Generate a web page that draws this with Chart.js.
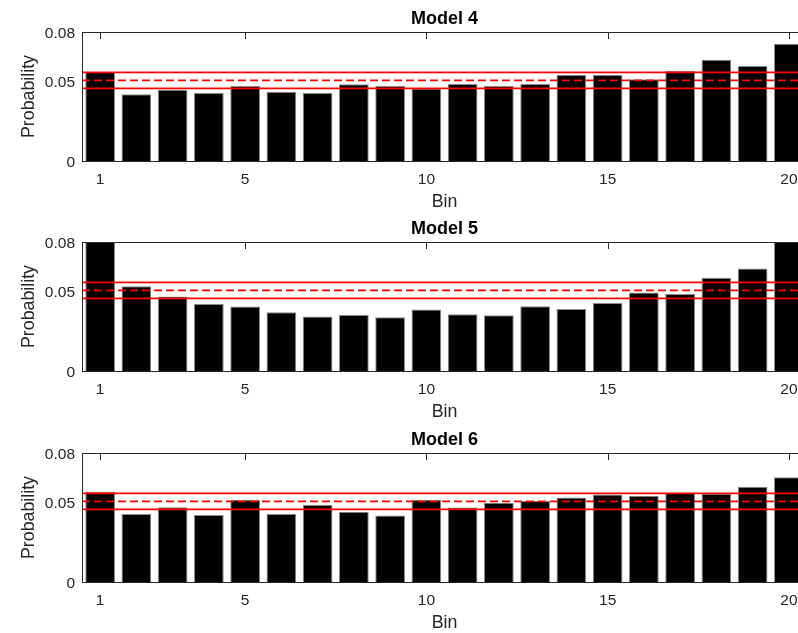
<!DOCTYPE html>
<html>
<head>
<meta charset="utf-8">
<script src="https://cdn.jsdelivr.net/npm/chart.js@4.4.0/dist/chart.umd.min.js"></script>
<style>
  html, body { margin: 0; padding: 0; background: #fff; overflow: hidden; }
  #wrap { position: relative; width: 798px; height: 633px; overflow: hidden; }
  canvas { position: absolute; left: 0; }
</style>
</head>
<body>
<div id="wrap">
  <canvas id="c4" width="815" height="213" style="top:0px"></canvas>
  <canvas id="c5" width="815" height="213" style="top:210px"></canvas>
  <canvas id="c6" width="815" height="213" style="top:421px"></canvas>
</div>
<script>
// data
const bins = ['1','2','3','4','5','6','7','8','9','10','11','12','13','14','15','16','17','18','19','20'];
const xTicks = ['1', '5', '10', '15', '20'];
const yTicks = [0, 0.05, 0.08];

const model4 = [0.0552, 0.0414, 0.0442, 0.0422, 0.0465, 0.0430, 0.0422, 0.0476, 0.0465, 0.0450,
                0.0478, 0.0465, 0.0478, 0.0533, 0.0533, 0.0507, 0.0558, 0.0628, 0.0589, 0.0727];
const model5 = [0.0880, 0.0525, 0.0462, 0.0415, 0.0400, 0.0365, 0.0338, 0.0348, 0.0334, 0.0381,
                0.0352, 0.0346, 0.0402, 0.0385, 0.0421, 0.0487, 0.0477, 0.0578, 0.0636, 0.0860];
const model6 = [0.0559, 0.0421, 0.0464, 0.0415, 0.0510, 0.0421, 0.0479, 0.0435, 0.0413, 0.0510,
                0.0462, 0.0491, 0.0503, 0.0524, 0.0543, 0.0535, 0.0553, 0.0547, 0.0590, 0.0649];

// reference band (expected value and bounds)
const refMid = 0.05;
const refUpper = 0.0549;
const refLower = 0.0451;

const axisColor = '#262626';
const tickLen = 7;

Chart.defaults.font.family = '"Liberation Sans", Arial, Helvetica, sans-serif';
Chart.defaults.color = axisColor;

// MATLAB style box, inward ticks and the red reference lines
const matlabAxes = {
  id: 'matlabAxes',
  beforeDatasetsDraw(chart) {
    const {ctx, chartArea: a, scales: {x, y}} = chart;
    ctx.save();
    ctx.strokeStyle = axisColor;
    ctx.lineWidth = 1;
    ctx.beginPath();
    xTicks.forEach(t => {
      const px = Math.round(x.getPixelForValue(bins.indexOf(t))) + 0.5;
      ctx.moveTo(px, a.top); ctx.lineTo(px, a.top + tickLen);
      ctx.moveTo(px, a.bottom); ctx.lineTo(px, a.bottom - tickLen);
    });
    yTicks.forEach(v => {
      const py = Math.round(y.getPixelForValue(v)) + 0.5;
      ctx.moveTo(a.left, py); ctx.lineTo(a.left + tickLen, py);
    });
    ctx.stroke();
    ctx.restore();
  },
  afterDatasetsDraw(chart) {
    const {ctx, chartArea: a, scales: {y}} = chart;
    ctx.save();
    ctx.strokeStyle = 'rgb(255,0,0)';
    ctx.lineWidth = 1.75;
    [refUpper, refMid, refLower].forEach(v => {
      const py = y.getPixelForValue(v);
      ctx.setLineDash(v === refMid ? [8, 4] : []);
      ctx.beginPath();
      ctx.moveTo(a.left, py);
      ctx.lineTo(a.right, py);
      ctx.stroke();
    });
    ctx.setLineDash([]);
    ctx.strokeStyle = axisColor;
    ctx.lineWidth = 1;
    ctx.strokeRect(a.left + 0.5, a.top + 0.5, a.right - a.left, a.bottom - a.top);
    ctx.restore();
  }
};

function makePanel(id, title, values) {
  return new Chart(document.getElementById(id), {
    type: 'bar',
    data: {
      labels: bins,
      datasets: [{
        data: values,
        backgroundColor: '#000',
        borderColor: '#8a8a8a',
        borderWidth: 1,
        barPercentage: 0.82,
        categoryPercentage: 1,
        clip: 0
      }]
    },
    options: {
      responsive: false,
      animation: false,
      layout: { padding: { left: 0, right: 8, top: 0, bottom: 0 } },
      plugins: {
        legend: { display: false },
        tooltip: { enabled: false },
        title: {
          display: true,
          text: title,
          color: '#000',
          fullSize: false,
          font: { size: 18, weight: 'bold' },
          padding: { top: 8, bottom: 2.4 }
        }
      },
      scales: {
        x: {
          grid: { display: false, drawTicks: false },
          border: { display: false },
          afterFit: s => { s.height = 52; },
          ticks: {
            autoSkip: false,
            maxRotation: 0,
            padding: 9,
            font: { size: 15.5 },
            callback: function (val) {
              const l = this.getLabelForValue(val);
              return xTicks.includes(l) ? l : '';
            }
          },
          title: { display: true, text: 'Bin', font: { size: 17.8 }, padding: { top: 0, bottom: 0 } }
        },
        y: {
          min: 0,
          max: 0.08,
          grid: { display: false, drawTicks: false },
          border: { display: false },
          afterFit: s => { s.width = 82; },
          afterBuildTicks: s => { s.ticks = yTicks.map(v => ({ value: v })); },
          ticks: {
            padding: 7,
            labelOffset: 2,
            font: { size: 15.5 },
            callback: v => (v === 0 ? '0' : v.toFixed(2))
          },
          title: { display: true, text: 'Probability', font: { size: 17.8 }, padding: { top: 18, bottom: 0 } }
        }
      }
    },
    plugins: [matlabAxes]
  });
}

makePanel('c4', 'Model 4', model4);
makePanel('c5', 'Model 5', model5);
makePanel('c6', 'Model 6', model6);
</script>
</body>
</html>
